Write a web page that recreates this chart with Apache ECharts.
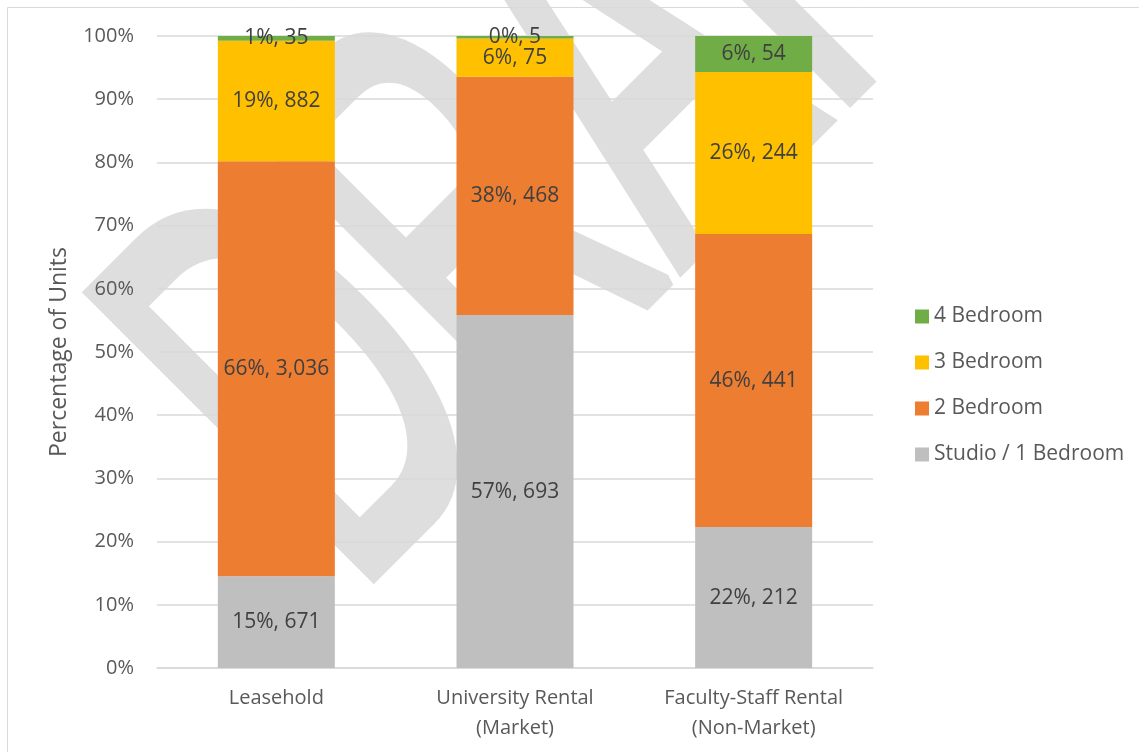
<!DOCTYPE html>
<html>
<head>
<meta charset="utf-8">
<title>Unit mix by tenure</title>
<script src="https://cdn.jsdelivr.net/npm/echarts@6/dist/echarts.min.js"></script>
<style>
  html, body { margin: 0; padding: 0; background: #fff; }
  #chart { width: 1139px; height: 752px; }
</style>
</head>
<body>
<div id="chart"></div>
<script>
const categories = ['Leasehold', 'University Rental\n(Market)', 'Faculty-Staff Rental\n(Non-Market)']

// unit counts per bedroom type
const studio = [671, 693, 212]
const twoBed = [3036, 468, 441]
const threeBed = [882, 75, 244]
const fourBed = [35, 5, 54]

// percentages as printed on the labels
const studioPct = [15, 57, 22]
const twoBedPct = [66, 38, 46]
const threeBedPct = [19, 6, 26]
const fourBedPct = [1, 0, 6]

const yTicks = [0, 10, 20, 30, 40, 50, 60, 70, 80, 90, 100]

const totals = categories.map((_, i) => studio[i] + twoBed[i] + threeBed[i] + fourBed[i])
const share = arr => arr.map((v, i) => v / totals[i] * 100)

const textColor = '#404040'
const axisColor = '#595959'
const gridColor = '#d9d9d9'
const font = '"Open Sans", "Noto Sans", sans-serif'

function makeSeries(name, counts, pcts, color) {
  return {
    name,
    type: 'bar',
    stack: 'units',
    barWidth: 117,
    itemStyle: { color },
    label: {
      show: true,
      position: 'inside',
      color: textColor,
      fontFamily: font,
      fontSize: 21,
      formatter: p => pcts[p.dataIndex] + '%, ' + counts[p.dataIndex].toLocaleString('en-US'),
    },
    data: share(counts),
  }
}

const chart = echarts.init(document.getElementById('chart'))
chart.setOption({
  backgroundColor: '#fff',
  animation: false,
  textStyle: { fontFamily: font },
  graphic: [
    {
      // DRAFT watermark behind the plot
      type: 'text',
      z: -10,
      x: 240,
      y: 482,
      rotation: Math.PI / 4,
      scaleX: 0.55,
      scaleY: 1,
      style: {
        text: 'DRAFT',
        font: '580px "Liberation Sans"',
        fill: '#dedede',
        stroke: '#dedede',
        lineWidth: 14,
        lineJoin: 'round',
        align: 'left',
        verticalAlign: 'middle',
      },
    },
    {
      type: 'rect',
      z: -5,
      shape: { x: 7.5, y: 7.5, width: 1200, height: 800 },
      style: { fill: 'none', stroke: gridColor, lineWidth: 1 },
    },
  ],
  grid: { left: 157, right: 266, top: 36, bottom: 84 },
  legend: {
    orient: 'vertical',
    left: 910,
    top: 301,
    itemWidth: 14,
    itemHeight: 14,
    itemGap: 25,
    icon: 'rect',
    textStyle: { color: axisColor, fontSize: 21, fontFamily: font },
    data: ['4 Bedroom', '3 Bedroom', '2 Bedroom', 'Studio / 1 Bedroom'],
  },
  xAxis: {
    type: 'category',
    data: categories,
    axisLine: { lineStyle: { color: gridColor, width: 1.5 } },
    axisTick: { show: false },
    axisLabel: { color: axisColor, fontSize: 20, fontFamily: font, lineHeight: 30, margin: 15 },
  },
  yAxis: {
    type: 'value',
    min: yTicks[0],
    max: yTicks[yTicks.length - 1],
    interval: 10,
    name: 'Percentage of Units',
    nameLocation: 'middle',
    nameRotate: 90,
    nameGap: 86,
    nameTextStyle: { color: axisColor, fontSize: 23, fontFamily: font },
    axisLine: { show: false },
    axisTick: { show: false },
    axisLabel: { color: axisColor, fontSize: 20, fontFamily: font, margin: 23, formatter: '{value}%' },
    splitLine: { lineStyle: { color: gridColor, width: 1.5 } },
  },
  series: [
    makeSeries('Studio / 1 Bedroom', studio, studioPct, '#bfbfbf'),
    makeSeries('2 Bedroom', twoBed, twoBedPct, '#ed7d31'),
    makeSeries('3 Bedroom', threeBed, threeBedPct, '#ffc000'),
    makeSeries('4 Bedroom', fourBed, fourBedPct, '#70ad47'),
  ],
})
</script>
</body>
</html>
